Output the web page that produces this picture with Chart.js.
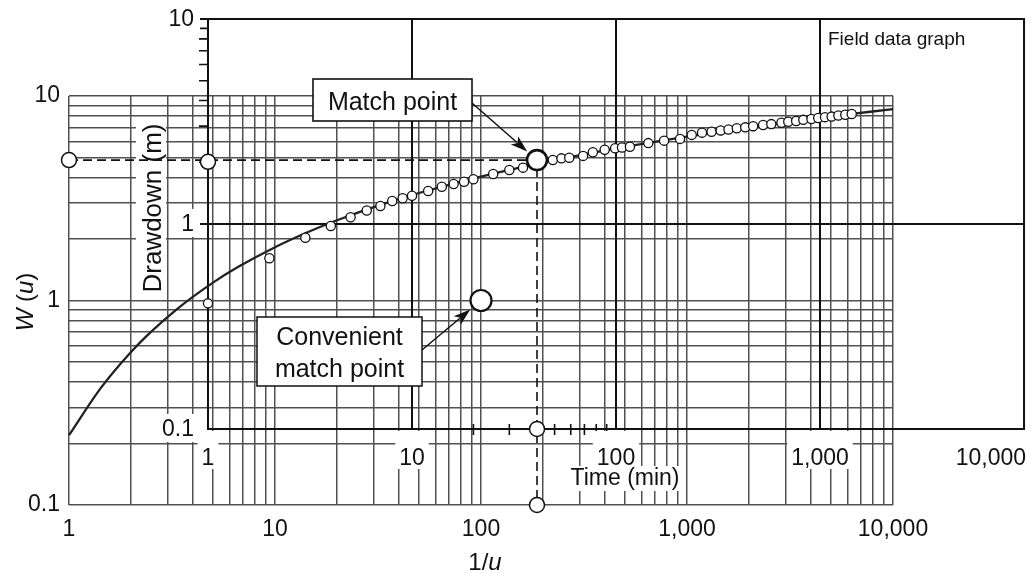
<!DOCTYPE html>
<html><head><meta charset="utf-8">
<script src="https://cdn.jsdelivr.net/npm/chart.js@4.4.1/dist/chart.umd.min.js"></script>
<style>html,body{margin:0;padding:0;background:#fff;}#wrap{width:1033px;height:573px;}</style>
</head><body><div id="wrap"><canvas id="c" width="1033" height="573"></canvas></div>
<script>
// ---------- Type curve: Theis well function W(u) vs 1/u (table values) ----------
const typeInvU = [1, 1.4286, 2, 2.5, 3.333, 5, 6.667, 10, 14.29, 20, 33.33, 50, 100, 200, 500, 1000, 2000, 5000, 10000];
const typeW    = [0.2194, 0.3738, 0.5598, 0.7024, 0.9057, 1.2227, 1.4645, 1.8229, 2.1508, 2.4679, 2.9591, 3.3547, 4.0379, 4.7261, 5.6394, 6.3315, 7.0242, 7.9402, 8.6332];

// ---------- Field data: time (min) vs drawdown (m) ----------
const fieldTime = [1,2,3,4,5,6,7,8,9,10,12,14,16,18,20,25,30,35,40,49,54,59,69,77,88,99,107,117,144,172,206,235,264,294,326,356,391,430,470,526,577,647,699,764,828,908,980,1058,1140,1230,1330,1430];
const fieldDrawdown = [0.41,0.68,0.857,0.978,1.078,1.164,1.224,1.294,1.335,1.374,1.449,1.52,1.567,1.608,1.652,1.754,1.834,1.883,2.01,2.05,2.09,2.105,2.148,2.24,2.30,2.34,2.36,2.38,2.48,2.55,2.60,2.72,2.79,2.82,2.86,2.89,2.93,2.96,3.00,3.04,3.07,3.12,3.15,3.18,3.22,3.25,3.29,3.32,3.34,3.38,3.41,3.44];

// ---------- Match points ----------
const matchInvU = 187, matchW = 4.86;          // on type curve axes
const matchTime = 41, matchDrawdown = 2.01;    // same point on field axes
const convInvU = 100, convW = 1;               // convenient match point

// ---------- Tick labels ----------
const typeXDecades = [1, 10, 100, 1000, 10000];
const typeXLabels  = ['1', '10', '100', '1,000', '10,000'];
const typeYDecades = [0.1, 1, 10];
const typeYLabels  = ['0.1', '1', '10'];
const fieldTDecades = [1, 10, 100, 1000, 10000];
const fieldTLabels  = ['1', '10', '100', '1,000', '10,000'];
const fieldSDecades = [0.1, 1, 10];
const fieldSLabels  = ['0.1', '1', '10'];
const gridSteps = [1,2,3,4,5,6,7,8,9];
const fieldSMinor = [2,3,4,5,6,7,8,9];
const fieldTMinor = [20,30,40,50,60,70,80,90];

// field graph scale window (field log paper placed over the type curve sheet)
const FIELD_T_MIN = 0.2083, FIELD_T_MAX = 2279;
const FIELD_S_MIN = 0.04258, FIELD_S_MAX = 4.21;

const FONT = '"Liberation Sans", Arial, Helvetica, sans-serif';
const GRID_COLOR = '#505050';
const TEXT_COLOR = '#111';

function gridValues(decades) {
  const out = [];
  const top = decades[decades.length - 1];
  decades.forEach(d => gridSteps.forEach(m => { const v = +(d * m).toPrecision(6); if (v <= top) out.push(v); }));
  return out;
}
function labelFor(decades, labels) {
  return v => { const i = decades.findIndex(d => Math.abs(d - v) < 1e-9 * d); return i >= 0 ? labels[i] : ''; };
}

function textBox(ctx, text, x, baseline, align, font, padX, up, down) {
  ctx.font = font;
  const w = ctx.measureText(text).width;
  let left = align === 'right' ? x - w : (align === 'center' ? x - w / 2 : x);
  ctx.fillStyle = '#fff';
  ctx.fillRect(left - padX, baseline - up, w + 2 * padX, up + down);
  ctx.fillStyle = TEXT_COLOR;
  ctx.textAlign = 'left';
  ctx.textBaseline = 'alphabetic';
  ctx.fillText(text, left, baseline);
}

function arrow(ctx, x1, y1, x2, y2) {
  const a = Math.atan2(y2 - y1, x2 - x1), L = 17, H = 5.5;
  ctx.strokeStyle = '#111'; ctx.lineWidth = 1.5;
  ctx.beginPath(); ctx.moveTo(x1, y1);
  ctx.lineTo(x2 - L * 0.8 * Math.cos(a), y2 - L * 0.8 * Math.sin(a)); ctx.stroke();
  ctx.fillStyle = '#111';
  ctx.beginPath();
  ctx.moveTo(x2, y2);
  ctx.lineTo(x2 - L * Math.cos(a) + H * Math.sin(a), y2 - L * Math.sin(a) - H * Math.cos(a));
  ctx.lineTo(x2 - L * 0.75 * Math.cos(a), y2 - L * 0.75 * Math.sin(a));
  ctx.lineTo(x2 - L * Math.cos(a) - H * Math.sin(a), y2 - L * Math.sin(a) + H * Math.cos(a));
  ctx.closePath(); ctx.fill();
}

const overlay = {
  id: 'overlay',
  beforeDatasetsDraw(chart) {
    const ctx = chart.ctx;
    const xf = chart.scales.xf, yf = chart.scales.yf;
    const X = v => xf.getPixelForValue(v), Y = v => yf.getPixelForValue(v);
    const L = X(fieldTDecades[0]), R = X(fieldTDecades[fieldTDecades.length - 1]);
    const T = Y(fieldSDecades[fieldSDecades.length - 1]), B = Y(fieldSDecades[0]);
    ctx.save();
    ctx.strokeStyle = '#111'; ctx.lineWidth = 2; ctx.lineCap = 'butt';
    // box
    ctx.beginPath();
    ctx.rect(L, T, R - L, B - T);
    ctx.stroke();
    // major lines
    ctx.beginPath();
    fieldTDecades.slice(1, -1).forEach(t => { ctx.moveTo(X(t), T); ctx.lineTo(X(t), B); });
    fieldSDecades.slice(1, -1).forEach(s => { ctx.moveTo(L - 10, Y(s)); ctx.lineTo(R, Y(s)); });
    ctx.moveTo(L - 10, T); ctx.lineTo(L, T);
    ctx.stroke();
    // minor ticks
    ctx.lineWidth = 1.6;
    ctx.beginPath();
    fieldSMinor.forEach(s => { ctx.moveTo(L - 9, Y(s)); ctx.lineTo(L, Y(s)); });
    fieldTMinor.forEach(t => { ctx.moveTo(X(t), B - 5); ctx.lineTo(X(t), B + 6); });
    ctx.stroke();
    // labels
    const f23 = '23px ' + FONT;
    fieldSDecades.forEach((s, i) => textBox(ctx, fieldSLabels[i], L - 14, Y(s) + 7, 'right', f23, 6, 22, 6));
    fieldTDecades.forEach((t, i) => {
      const last = i === fieldTDecades.length - 1;
      textBox(ctx, fieldTLabels[i], last ? R + 2 : X(t), B + 36, last ? 'right' : 'center', f23, 4, 34, 4);
    });
    textBox(ctx, 'Time (min)', 625, B + 56, 'center', f23, 3, 19, 6);
    // Drawdown (m) rotated
    ctx.save();
    ctx.translate(161, 208); ctx.rotate(-Math.PI / 2);
    ctx.font = '26px ' + FONT;
    const dw = ctx.measureText('Drawdown (m)').width;
    ctx.fillStyle = '#fff'; ctx.fillRect(-dw / 2 - 3, -25, dw + 6, 30);
    ctx.fillStyle = TEXT_COLOR; ctx.textAlign = 'center'; ctx.textBaseline = 'alphabetic';
    ctx.fillText('Drawdown (m)', 0, 0);
    ctx.restore();
    // type axis titles with italic u / W
    ctx.fillStyle = TEXT_COLOR; ctx.textBaseline = 'alphabetic'; ctx.textAlign = 'left';
    const fN = '24px ' + FONT, fI = 'italic 24px ' + FONT;
    ctx.font = fN; const w1 = ctx.measureText('1/').width;
    ctx.font = fI; const w2 = ctx.measureText('u').width;
    let x0 = 485 - (w1 + w2) / 2;
    ctx.font = fN; ctx.fillText('1/', x0, 570);
    ctx.font = fI; ctx.fillText('u', x0 + w1, 570);
    ctx.save();
    ctx.translate(33, 302); ctx.rotate(-Math.PI / 2);
    const parts = [['W', fI], [' (', fN], ['u', fI], [')', fN]];
    let tw = 0; parts.forEach(p => { ctx.font = p[1]; tw += ctx.measureText(p[0]).width; });
    let cx = -tw / 2;
    parts.forEach(p => { ctx.font = p[1]; ctx.fillText(p[0], cx, 0); cx += ctx.measureText(p[0]).width; });
    ctx.restore();
    ctx.restore();
  },
  afterDatasetsDraw(chart) {
    const ctx = chart.ctx;
    const x = chart.scales.x, y = chart.scales.y;
    ctx.save();
    ctx.fillStyle = TEXT_COLOR;
    ctx.font = '19px ' + FONT; ctx.textAlign = 'left'; ctx.textBaseline = 'alphabetic';
    ctx.fillText('Field data graph', 828, 45);
    // Match point box
    ctx.fillStyle = '#fff'; ctx.strokeStyle = '#111'; ctx.lineWidth = 1.6;
    ctx.fillRect(313, 79, 159, 42); ctx.strokeRect(313, 79, 159, 42);
    ctx.fillStyle = TEXT_COLOR; ctx.font = '25px ' + FONT; ctx.textAlign = 'center';
    ctx.fillText('Match point', 392.5, 110);
    const mx = x.getPixelForValue(matchInvU), my = y.getPixelForValue(matchW);
    let a = Math.atan2(my - 103, mx - 472);
    arrow(ctx, 472, 103, mx - 13 * Math.cos(a), my - 13 * Math.sin(a));
    // Convenient match point box
    ctx.fillStyle = '#fff';
    ctx.fillRect(257, 317, 165, 69); ctx.strokeRect(257, 317, 165, 69);
    ctx.fillStyle = TEXT_COLOR; ctx.textAlign = 'center';
    ctx.fillText('Convenient', 339.5, 345);
    ctx.fillText('match point', 339.5, 377);
    const cxp = x.getPixelForValue(convInvU), cyp = y.getPixelForValue(convW);
    a = Math.atan2(cyp - 350, cxp - 422);
    arrow(ctx, 422, 350, cxp - 14 * Math.cos(a), cyp - 14 * Math.sin(a));
    ctx.restore();
  }
};

const typeXGrid = gridValues(typeXDecades);
const typeYGrid = gridValues(typeYDecades);

new Chart(document.getElementById('c'), {
  type: 'scatter',
  data: {
    datasets: [
      { label: 'Convenient match point', data: [{x: convInvU, y: convW}], xAxisID: 'x', yAxisID: 'y',
        pointRadius: 10.5, pointBorderWidth: 2.2, pointBackgroundColor: '#fff', pointBorderColor: '#111', clip: false, order: 1 },
      { label: 'Match point', data: [{x: matchInvU, y: matchW}], xAxisID: 'x', yAxisID: 'y',
        pointRadius: 10, pointBorderWidth: 2.6, pointBackgroundColor: '#fff', pointBorderColor: '#111', clip: false, order: 1 },
      { label: 'Type axis marks', data: [{x: typeXDecades[0], y: matchW}, {x: matchInvU, y: typeYDecades[0]}], xAxisID: 'x', yAxisID: 'y',
        pointRadius: 7.5, pointBorderWidth: 1.5, pointBackgroundColor: '#fff', pointBorderColor: '#111', clip: false, order: 2 },
      { label: 'Field axis marks', data: [{x: fieldTDecades[0], y: matchDrawdown}, {x: matchTime, y: fieldSDecades[0]}], xAxisID: 'xf', yAxisID: 'yf',
        pointRadius: 7.5, pointBorderWidth: 1.5, pointBackgroundColor: '#fff', pointBorderColor: '#111', clip: false, order: 2 },
      { label: 'Field data', data: fieldTime.map((t, i) => ({x: t, y: fieldDrawdown[i]})), xAxisID: 'xf', yAxisID: 'yf',
        pointRadius: 4.6, pointBorderWidth: 1.3, pointBackgroundColor: '#fff', pointBorderColor: '#111', clip: false, order: 3 },
      { label: 'Match lines', type: 'line', data: [{x: typeXDecades[0], y: matchW}, {x: matchInvU, y: matchW}, {x: matchInvU, y: typeYDecades[0]}],
        xAxisID: 'x', yAxisID: 'y', borderColor: '#111', borderWidth: 1.6, borderDash: [9, 5], pointRadius: 0, fill: false, tension: 0, clip: false, order: 4 },
      { label: 'W(u)', type: 'line', data: typeInvU.map((v, i) => ({x: v, y: typeW[i]})), xAxisID: 'x', yAxisID: 'y',
        borderColor: '#222', borderWidth: 2.3, pointRadius: 0, fill: false, cubicInterpolationMode: 'monotone', clip: false, order: 5 }
    ]
  },
  options: {
    responsive: false, animation: false, devicePixelRatio: 1,
    layout: { padding: { left: 0, right: 140, top: 96, bottom: 0 } },
    plugins: { legend: { display: false }, tooltip: { enabled: false } },
    scales: {
      x: {
        type: 'logarithmic', position: 'bottom', min: 1, max: 10000, bounds: 'data',
        afterBuildTicks: s => { s.ticks = typeXGrid.map(v => ({value: v})); },
        afterFit: s => { s.height = 68; },
        grid: { color: GRID_COLOR, lineWidth: 1.5, drawTicks: false },
        border: { display: false },
        ticks: { autoSkip: false, maxRotation: 0, padding: 11, color: TEXT_COLOR, font: { family: FONT, size: 23 },
                 callback: labelFor(typeXDecades, typeXLabels) }
      },
      y: {
        type: 'logarithmic', position: 'left', min: 0.1, max: 10, bounds: 'data',
        afterBuildTicks: s => { s.ticks = typeYGrid.map(v => ({value: v})); },
        afterFit: s => { s.width = 69; },
        grid: { color: GRID_COLOR, lineWidth: 1.5, drawTicks: false },
        border: { display: false },
        ticks: { autoSkip: false, padding: 9, color: TEXT_COLOR, font: { family: FONT, size: 23 },
                 callback: labelFor(typeYDecades, typeYLabels) }
      },
      xf: { type: 'logarithmic', display: false, position: 'bottom', min: FIELD_T_MIN, max: FIELD_T_MAX, bounds: 'data' },
      yf: { type: 'logarithmic', display: false, position: 'left', min: FIELD_S_MIN, max: FIELD_S_MAX, bounds: 'data' }
    }
  },
  plugins: [overlay]
});
</script></body></html>
